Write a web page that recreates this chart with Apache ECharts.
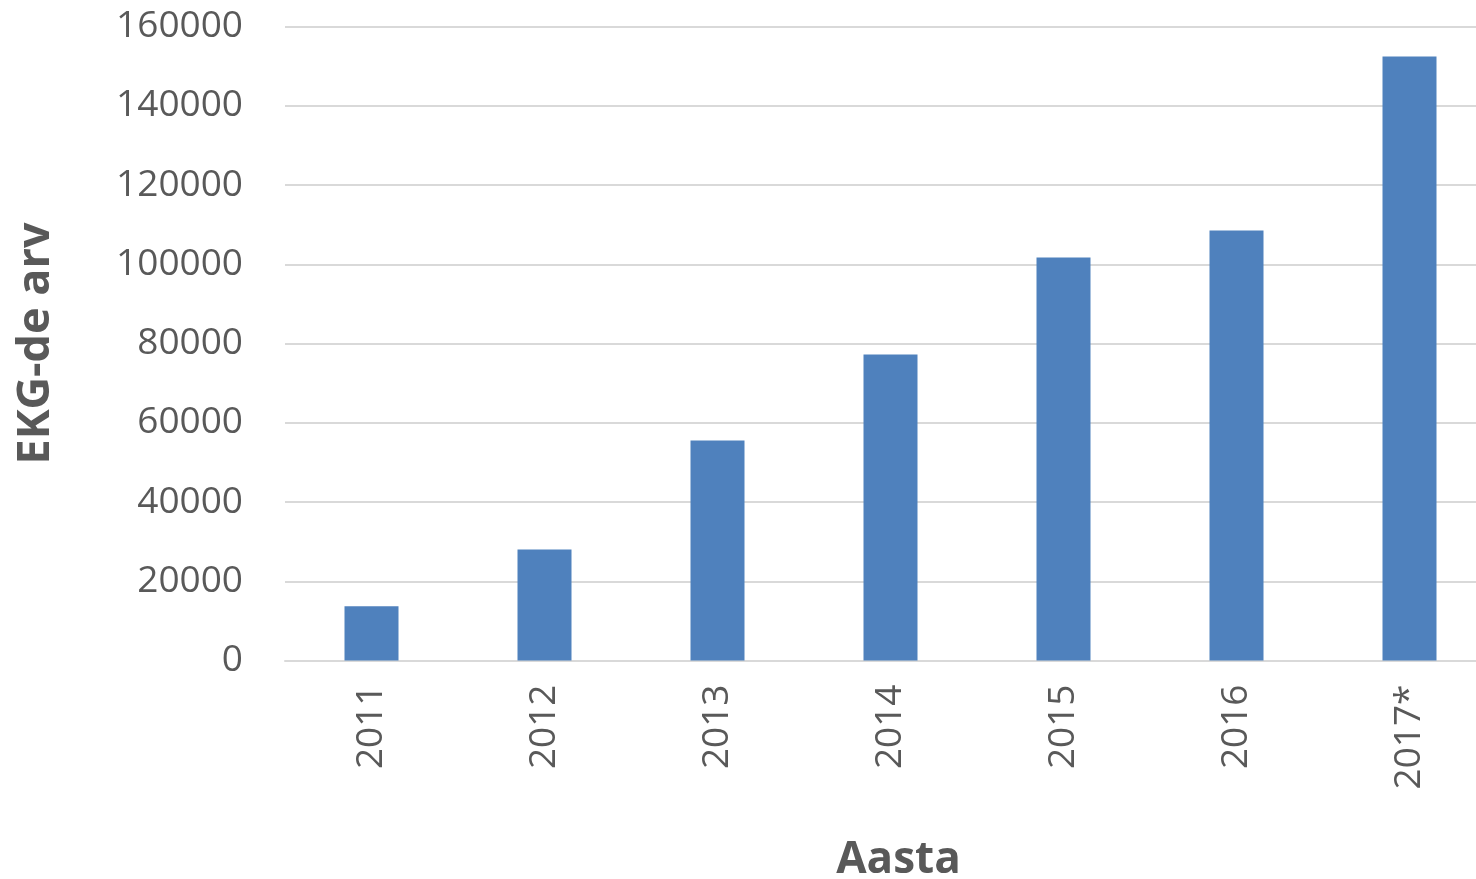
<!DOCTYPE html>
<html>
<head>
<meta charset="utf-8">
<script src="https://cdn.jsdelivr.net/npm/echarts@6/dist/echarts.min.js"></script>
<style>html,body{margin:0;padding:0;background:#fff;overflow:hidden;}#c{width:1476px;height:879px;}</style>
</head>
<body>
<div id="c"></div>
<script>
const categories = ['2011', '2012', '2013', '2014', '2015', '2016', '2017*'];
const values = [13700, 28000, 55500, 77200, 101700, 108500, 152400];
const xTitle = 'Aasta';
const yTitle = 'EKG-de arv';

const chart = echarts.init(document.getElementById('c'));
const FONT = '"Open Sans", "Liberation Sans", sans-serif';
chart.setOption({
  animation: false,
  grid: { left: 285, right: -20, top: 26.5, bottom: 218.5, outerBoundsMode: 'none', containLabel: false },
  xAxis: {
    type: 'category',
    data: categories,
    name: xTitle,
    nameLocation: 'middle',
    nameGap: 178,
    nameTextStyle: { fontFamily: FONT, fontSize: 44, fontWeight: 'bold', color: '#595959', padding: [0, 0, 0, 16] },
    axisLine: { lineStyle: { color: '#D9D9D9', width: 2 } },
    axisTick: { show: false },
    axisLabel: { rotate: 90, margin: 24, fontFamily: FONT, fontSize: 37, color: '#595959' }
  },
  yAxis: {
    type: 'value',
    min: 0, max: 160000, interval: 20000,
    name: yTitle,
    nameLocation: 'middle',
    nameRotate: 90,
    nameGap: 226,
    nameTextStyle: { fontFamily: FONT, fontSize: 45, fontWeight: 'bold', color: '#595959' },
    axisLine: { show: false },
    axisTick: { show: false },
    splitLine: { lineStyle: { color: '#D9D9D9', width: 2 } },
    axisLabel: { margin: 42, fontFamily: FONT, fontSize: 37, color: '#595959', formatter: v => String(v) }
  },
  series: [{
    type: 'bar',
    data: values,
    barWidth: 54,
    itemStyle: { color: '#4F81BD' }
  }]
});
</script>
</body>
</html>
